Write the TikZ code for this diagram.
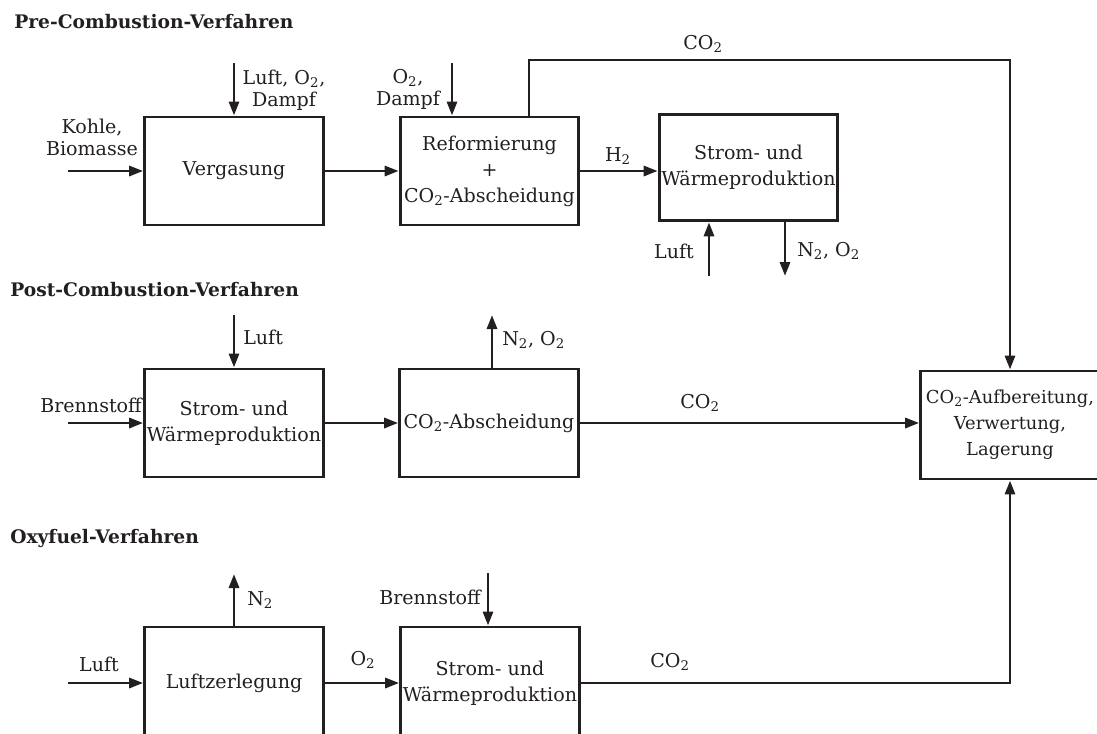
\documentclass[tikz,border=0pt]{standalone}
\usepackage{fontspec}
\setmainfont{DejaVu Serif}
\usetikzlibrary{arrows.meta}
\definecolor{ink}{HTML}{231F20}
\begin{document}
\begin{tikzpicture}[x=0.75pt,y=-0.75pt,
  every node/.style={text=ink,font=\fontsize{14.3}{19.5}\selectfont},
  box/.style={draw=ink,line width=2.2pt,minimum width=134pt,minimum height=81pt,align=center,inner sep=1pt},
  lbl/.style={align=center,inner sep=0pt,font=\fontsize{14.3}{16.5}\selectfont},
  ttl/.style={anchor=west,inner sep=0pt,font=\fontsize{14}{16}\selectfont\bfseries},
  arr/.style={draw=ink,line width=2.2pt,-{Triangle[length=10.5pt,width=7.5pt]}},
  ln/.style={draw=ink,line width=2.2pt}]
\useasboundingbox (0,0) rectangle (1097,733);
\clip (0,0) rectangle (1097,733);

% titles
\node[ttl] (tpre) at (14,22) {Pre-Combustion-Verfahren};
\node[ttl] (tpost) at (10,290) {Post-Combustion-Verfahren};
\node[ttl] (toxy) at (10,538) {Oxyfuel-Verfahren};

% boxes
\node[box] (verg) at (234,171) {Vergasung};
\node[box] (ref) at (489.5,171) {Reformierung\\+\\CO\textsubscript{2}-Abscheidung};
\node[box,minimum height=80pt] (spre) at (748.5,167.5) {Strom- und\\Wärmeproduktion};
\node[box,font=\fontsize{13.4}{19.5}\selectfont] (aufb) at (1010,425) {CO\textsubscript{2}-Aufbereitung,\\Verwertung,\\Lagerung};
\node[box] (spost) at (234,423) {Strom- und\\Wärmeproduktion};
\node[box] (abs) at (489,423) {CO\textsubscript{2}-Abscheidung};
\node[box,minimum height=84pt] (luz) at (234,683) {Luftzerlegung};
\node[box,minimum height=84pt] (sox) at (490,683) {Strom- und\\Wärmeproduktion};

% coordinates
\coordinate (kin) at (68,171);
\coordinate (luftpre) at (234,63);
\coordinate (o2pre) at (452,63);
\coordinate (co2top) at (529,60);
\coordinate (luftup) at (709,276);
\coordinate (n2down) at (785,276);
\coordinate (luftpost) at (234,315);
\coordinate (brpost) at (68,423);
\coordinate (n2post) at (492,315);
\coordinate (n2oxy) at (234,574);
\coordinate (luftoxy) at (68,683);
\coordinate (broxy) at (488,573);
\coordinate (co2oxy) at (1010,683);

% pre connectors
\draw[arr] (kin) -- (verg.west);
\draw[arr] (luftpre) -- (verg.north);
\draw[arr] (verg.east) -- (ref.west);
\draw[arr] (o2pre) -- (o2pre |- ref.north);
\draw[arr] (co2top |- ref.north) -- (co2top) -| (aufb.north);
\draw[arr] (ref.east) -- (ref.east -| spre.west);
\draw[arr] (luftup) -- (luftup |- spre.south);
\draw[arr] (n2down |- spre.south) -- (n2down);

% post connectors
\draw[arr] (luftpost) -- (spost.north);
\draw[arr] (brpost) -- (spost.west);
\draw[arr] (spost.east) -- (abs.west);
\draw[arr] (n2post |- abs.north) -- (n2post);
\draw[arr] (abs.east) -- (abs.east -| aufb.west);

% oxy connectors
\draw[arr] (luz.north) -- (n2oxy);
\draw[arr] (luftoxy) -- (luz.west);
\draw[arr] (luz.east) -- (sox.west);
\draw[arr] (broxy) -- (broxy |- sox.north);
\draw[arr] (sox.east) -- (co2oxy) -- (aufb.south);

% labels
\node[lbl] (lkohle) at (92,137) {Kohle,\\Biomasse};
\node[lbl] (lluft1) at (284,90) {Luft, O\textsubscript{2},\\Dampf};
\node[lbl] (lo2) at (408,89) {O\textsubscript{2},\\Dampf};
\node[lbl] (lco2a) at (703,44) {CO\textsubscript{2}};
\node[lbl] (lh2) at (618,156) {H\textsubscript{2}};
\node[lbl] (lluft2) at (674,251) {Luft};
\node[lbl,anchor=west] (ln2a) at (797,251) {N\textsubscript{2}, O\textsubscript{2}};
\node[lbl,anchor=west] (lluft3) at (243,337) {Luft};
\node[lbl] (lbr1) at (91,405) {Brennstoff};
\node[lbl,anchor=west] (ln2b) at (502,340) {N\textsubscript{2}, O\textsubscript{2}};
\node[lbl] (lco2b) at (700,403) {CO\textsubscript{2}};
\node[lbl,anchor=west] (ln2c) at (247,600) {N\textsubscript{2}};
\node[lbl] (lluft4) at (99,664) {Luft};
\node[lbl] (lo2b) at (363,660) {O\textsubscript{2}};
\node[lbl,anchor=east] (lbr2) at (481,597) {Brennstoff};
\node[lbl] (lco2c) at (670,662) {CO\textsubscript{2}};
\end{tikzpicture}
\end{document}
